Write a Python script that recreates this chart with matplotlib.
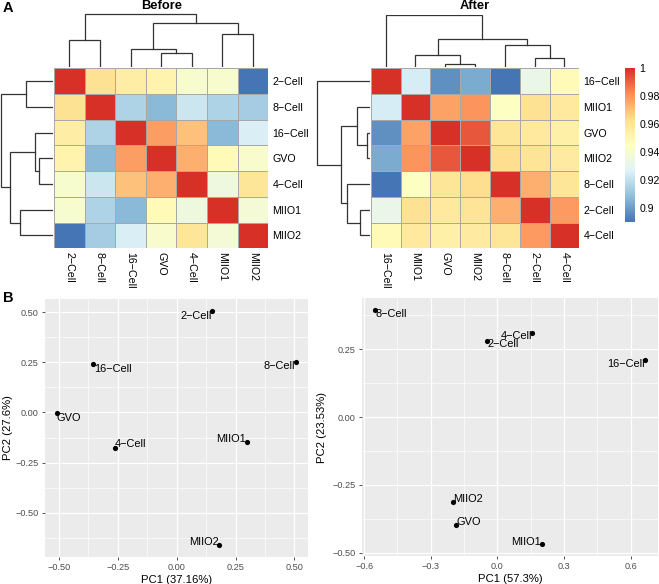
import numpy as np
import matplotlib
matplotlib.use("Agg")
import matplotlib.pyplot as plt
from matplotlib.colors import LinearSegmentedColormap, Normalize
from matplotlib.cm import ScalarMappable

plt.rcParams['font.family'] = ['Liberation Sans', 'DejaVu Sans']

W, H = 659, 584
MINUS = '\u2212'

# ---- heatmap data (correlations) ----
before_labels = ['2-Cell', '8-Cell', '16-Cell', 'GVO', '4-Cell', 'MIIO1', 'MIIO2']
before_corr = [
    [1.000, 0.962, 0.955, 0.952, 0.940, 0.940, 0.890],
    [0.962, 1.000, 0.915, 0.907, 0.922, 0.915, 0.913],
    [0.955, 0.915, 1.000, 0.978, 0.970, 0.907, 0.925],
    [0.952, 0.907, 0.978, 1.000, 0.974, 0.948, 0.941],
    [0.940, 0.922, 0.970, 0.974, 1.000, 0.935, 0.960],
    [0.940, 0.915, 0.907, 0.948, 0.935, 1.000, 0.938],
    [0.890, 0.913, 0.925, 0.941, 0.960, 0.938, 1.000],
]
# merges: (child a, child b, height); leaves 0..6, merges numbered from 7
before_tree = [(3, 4, 14.0), (2, 7, 18.4), (0, 1, 27.4), (5, 6, 33.4), (8, 10, 44.0), (9, 11, 53.4)]

after_labels = ['16-Cell', 'MIIO1', 'GVO', 'MIIO2', '8-Cell', '2-Cell', '4-Cell']
after_corr = [
    [1.000, 0.925, 0.897, 0.904, 0.8904, 0.932, 0.948],
    [0.925, 1.000, 0.977, 0.980, 0.944, 0.962, 0.958],
    [0.897, 0.977, 1.000, 0.992, 0.960, 0.958, 0.954],
    [0.904, 0.980, 0.992, 1.000, 0.964, 0.961, 0.957],
    [0.8904, 0.944, 0.960, 0.964, 1.000, 0.974, 0.960],
    [0.932, 0.962, 0.958, 0.961, 0.974, 1.000, 0.979],
    [0.948, 0.958, 0.954, 0.957, 0.960, 0.979, 1.000],
]
after_tree = [(2, 3, 2.7), (5, 6, 9.4), (1, 7, 12.4), (4, 8, 21.7), (9, 10, 27.4), (0, 11, 51.7)]

cbar_ticks = [0.9, 0.92, 0.94, 0.96, 0.98, 1.0]
cbar_ticklabels = ['0.9', '0.92', '0.94', '0.96', '0.98', '1']

# ---- PCA data ----
pca1_labels = ['2-Cell', '16-Cell', '8-Cell', 'GVO', '4-Cell', 'MIIO1', 'MIIO2']
pca1_x = [0.149, -0.355, 0.508, -0.508, -0.263, 0.300, 0.181]
pca1_y = [0.505, 0.239, 0.249, -0.005, -0.176, -0.149, -0.660]

pca2_labels = ['8-Cell', '2-Cell', '4-Cell', '16-Cell', 'MIIO2', 'GVO', 'MIIO1']
pca2_x = [-0.549, -0.045, 0.157, 0.663, -0.198, -0.185, 0.199]
pca2_y = [0.395, 0.280, 0.311, 0.210, -0.313, -0.399, -0.469]

# label placement (ha, dx px, dy px)
pca1_place = {'2-Cell': ('right', 0, -5), '16-Cell': ('left', 1, -5), '8-Cell': ('right', -1, -4),
              'GVO': ('left', 0, -5), '4-Cell': ('left', 0, 4), 'MIIO1': ('right', -1, 3),
              'MIIO2': ('right', -1, 3)}
pca2_place = {'8-Cell': ('left', 0, -4), '2-Cell': ('left', 0, -3), '4-Cell': ('right', 0, -3),
              '16-Cell': ('right', 0, -4), 'MIIO2': ('left', 0, 3), 'GVO': ('left', 0, 3),
              'MIIO1': ('right', -1, 2)}

cmap = LinearSegmentedColormap.from_list(
    'pheat', ['#4575B4', '#91BFDB', '#E0F3F8', '#FFFFBF', '#FEE090', '#FC8D59', '#D73027'])


def fix(label):
    return label.replace('-', MINUS)


def px(x0, y0, x1, y1):
    return [x0 / W, 1 - y1 / H, (x1 - x0) / W, (y1 - y0) / H]


fig = plt.figure(figsize=(W / 100, H / 100), dpi=100)


def draw_tree(ax, tree, n, orient):
    pos = {i: i + 0.5 for i in range(n)}
    hgt = {i: 0.0 for i in range(n)}
    for k, (a, b, h) in enumerate(tree):
        xs = [pos[a], pos[a], pos[b], pos[b]]
        ys = [hgt[a], h, h, hgt[b]]
        if orient == 'top':
            ax.plot(xs, ys, color='#333333', lw=0.9, solid_joinstyle='miter')
        else:
            ax.plot(ys, xs, color='#333333', lw=0.9, solid_joinstyle='miter')
        pos[n + k] = (pos[a] + pos[b]) / 2
        hgt[n + k] = h
    top = max(t[2] for t in tree)
    if orient == 'top':
        ax.set_xlim(0, n)
        ax.set_ylim(0, top * 1.01)
    else:
        ax.set_xlim(top * 1.01, 0)
        ax.set_ylim(n, 0)
    ax.axis('off')


def heatmap(box, tbox, lbox, labels, corr, tree, title):
    m = np.array(corr)
    n = len(labels)
    ax = fig.add_axes(px(*box))
    ax.pcolormesh(m, cmap=cmap, vmin=m.min(), vmax=m.max(),
                  edgecolors='#A8A8A8', linewidth=0.7)
    ax.set_xlim(0, n)
    ax.set_ylim(n, 0)
    for s in ax.spines.values():
        s.set_visible(False)
    ax.set_xticks(np.arange(n) + 0.5)
    ax.set_xticklabels([fix(l) for l in labels], rotation=-90, fontsize=7.7)
    ax.yaxis.tick_right()
    ax.set_yticks(np.arange(n) + 0.5)
    ax.set_yticklabels([fix(l) for l in labels], fontsize=7.7)
    ax.tick_params(length=0, pad=3)
    tax = fig.add_axes(px(*tbox))
    draw_tree(tax, tree, n, 'top')
    lax = fig.add_axes(px(*lbox))
    draw_tree(lax, tree, n, 'left')
    fig.text((box[0] + box[2]) / 2 / W, 1 - 6 / H, title, ha='center', va='center',
             fontsize=9.3, fontweight='bold')


heatmap((54, 68.3, 268.3, 248.3), (54, 13, 268.3, 67), (0, 68.3, 52.5, 248.3),
        before_labels, before_corr, before_tree, 'Before')
heatmap((370.7, 68.3, 579.3, 248.3), (370.7, 14.5, 579.3, 67), (316, 68.3, 369.5, 248.3),
        after_labels, after_corr, after_tree, 'After')

# colour legend
am = np.array(after_corr)
cax = fig.add_axes(px(625, 68.3, 635, 221.7))
cb = fig.colorbar(ScalarMappable(norm=Normalize(am.min(), am.max()), cmap=cmap), cax=cax)
cb.outline.set_visible(False)
cb.set_ticks(cbar_ticks)
cb.set_ticklabels(cbar_ticklabels)
cax.tick_params(length=0, labelsize=7.6, pad=3)

fig.text(3 / W, 1 - 8 / H, 'A', fontsize=10.5, fontweight='bold', ha='left', va='center')
fig.text(3 / W, 1 - 298 / H, 'B', fontsize=10.5, fontweight='bold', ha='left', va='center')


def fmt(v, d):
    s = f'{v:.{d}f}'
    return s.replace('-', MINUS)


def pca(box, xs, ys, labels, place, xmaj, ymaj, xd, yd, xlabel, ylabel, ylab_x):
    ax = fig.add_axes(px(*box))
    ax.set_facecolor('#EBEBEB')
    ax.scatter(xs, ys, s=14, color='black', zorder=3, linewidths=0)
    for x, y, lab in zip(xs, ys, labels):
        ha, dx, dy = place[lab]
        ax.annotate(fix(lab), (x, y), xytext=(dx, dy), textcoords='offset pixels',
                    ha=ha, va='center', fontsize=7.9, zorder=4)
    xr = max(xs) - min(xs)
    yr = max(ys) - min(ys)
    ax.set_xlim(min(xs) - 0.05 * xr, max(xs) + 0.05 * xr)
    ax.set_ylim(min(ys) - 0.05 * yr, max(ys) + 0.05 * yr)
    xstep = xmaj[1] - xmaj[0]
    ystep = ymaj[1] - ymaj[0]
    xmin_ = np.arange(xmaj[0] - xstep / 2, xmaj[-1] + xstep, xstep)
    ymin_ = np.arange(ymaj[0] - ystep / 2, ymaj[-1] + ystep, ystep)
    for v in xmin_:
        ax.axvline(v, color='white', lw=0.45, zorder=1)
    for v in ymin_:
        ax.axhline(v, color='white', lw=0.45, zorder=1)
    for v in xmaj:
        ax.axvline(v, color='white', lw=0.9, zorder=1)
    for v in ymaj:
        ax.axhline(v, color='white', lw=0.9, zorder=1)
    ax.set_xticks(xmaj)
    ax.set_xticklabels([fmt(v, xd) for v in xmaj])
    ax.set_yticks(ymaj)
    ax.set_yticklabels([fmt(v, yd) for v in ymaj])
    ax.tick_params(length=2.5, width=0.6, color='#333333', labelcolor='#4D4D4D',
                   labelsize=6.6, pad=2)
    for s in ax.spines.values():
        s.set_visible(False)
    ax.set_xlabel(xlabel, fontsize=8.1, labelpad=2)
    fig.text(ylab_x / W, 1 - (box[1] + box[3]) / 2 / H, ylabel, rotation=90,
             ha='center', va='center', fontsize=8.1)


pca((45, 299.3, 308.3, 556.7), pca1_x, pca1_y, pca1_labels, pca1_place,
    [-0.5, -0.25, 0.0, 0.25, 0.5], [-0.5, -0.25, 0.0, 0.25, 0.5], 2, 2,
    'PC1 (37.16%)', 'PC2 (27.6%)', 8)
pca((362, 298.3, 658, 556), pca2_x, pca2_y, pca2_labels, pca2_place,
    [-0.6, -0.3, 0.0, 0.3, 0.6], [-0.5, -0.25, 0.0, 0.25], 1, 2,
    'PC1 (57.3%)', 'PC2 (23.53%)', 322)

fig.savefig('out.png', dpi=100)
